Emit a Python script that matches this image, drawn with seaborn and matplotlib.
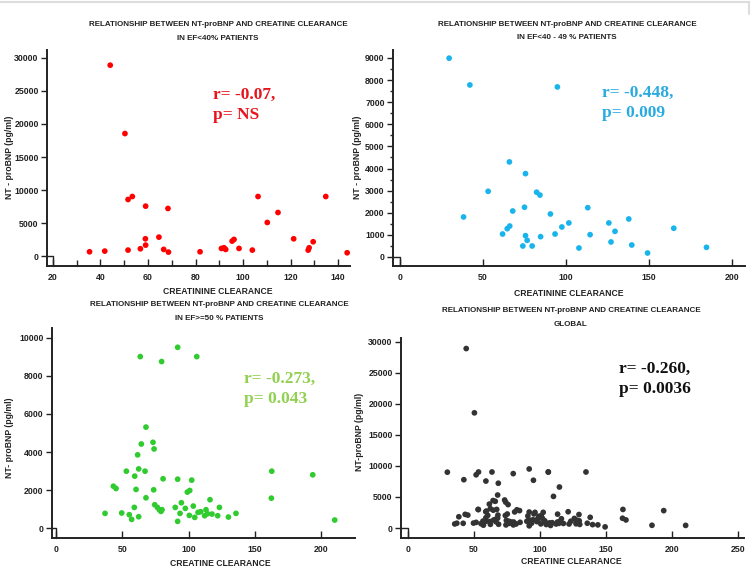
import numpy as np
import pandas as pd
import matplotlib
matplotlib.use('Agg')
import matplotlib.pyplot as plt
from matplotlib.lines import Line2D
from matplotlib.ticker import MultipleLocator
import seaborn as sns

# --- data ---
# EF < 40 %
ef40_cc = [44.1, 50.3, 51.6, 53.4, 59.0, 68.4, 35.4, 41.8, 51.6, 56.8, 58.9, 59.0,
           64.6, 66.6, 68.6, 81.9, 90.9, 92.0, 92.7, 95.4, 96.2, 98.3, 103.9, 106.3,
           110.2, 114.7, 121.3, 127.4, 127.8, 129.5, 134.8, 143.8]
ef40_bnp = [28900, 18550, 8570, 9020, 7560, 7210, 655, 756, 907, 1110, 2620, 1660,
            2870, 1010, 605, 655, 1160, 1260, 1010, 2270, 2520, 1160, 907, 9020,
            5090, 6600, 2620, 907, 1260, 2170, 9020, 504]

# EF 40 - 49 %
ef49_cc = [29.8, 42.3, 95.0, 38.5, 53.3, 62.0, 64.8, 66.3, 66.1, 68.1, 75.8, 75.2,
           75.8, 76.8, 74.2, 79.8, 82.5, 84.5, 84.9, 90.8, 93.6, 97.7, 101.9, 108.0,
           113.3, 114.7, 126.0, 127.3, 129.7, 138.0, 139.8, 149.3, 165.1, 184.8]
ef49_bnp = [8990, 7780, 7690, 1810, 2970, 1040, 1280, 1400, 4300, 2080, 3770, 2250,
            965, 754, 498, 498, 2930, 2800, 920, 1945, 1040, 1357, 1540, 407,
            2230, 1010, 1540, 680, 1160, 1720, 543, 181, 1300, 437]

# EF >= 50 %
ef50_cc = [91.8, 63.6, 79.7, 106.2, 67.9, 73.2, 74.0, 64.4, 61.6, 62.4, 53.1, 59.4,
           67.2, 162.8, 193.7, 43.3, 45.3, 60.4, 73.7, 80.8, 91.8, 102.4, 67.9, 162.5,
           99.1, 100.9, 116.2, 37.0, 49.6, 55.3, 57.1, 59.1, 62.4, 74.5, 76.5, 78.0,
           79.2, 80.0, 90.0, 93.6, 94.6, 97.6, 91.8, 100.6, 103.6, 104.7, 107.2, 109.2,
           112.2, 113.2, 114.3, 117.7, 122.0, 123.3, 130.1, 135.8, 210.3]
ef50_bnp = [9510, 9020, 8760, 9020, 5310, 4510, 4160, 4420, 3850, 3110, 2990, 2730,
            2990, 2990, 2800, 2200, 2080, 2030, 2010, 2590, 2570, 2520, 1590, 1570,
            1890, 1975, 1490, 770, 790, 700, 455, 1084, 594, 1224, 1084, 961,
            874, 961, 1084, 770, 1330, 1031, 350, 664, 1154, 559, 822, 857,
            647, 961, 752, 734, 647, 1084, 577, 770, 420]

# global = all patients together
glob_cc = ef40_cc + ef49_cc + ef50_cc
glob_bnp = ef40_bnp + ef49_bnp + ef50_bnp

W, H = 753, 570
sns.set_style('ticks')
plt.rcParams['font.family'] = ['Liberation Sans', 'DejaVu Sans']

fig = plt.figure(figsize=(W / 100, H / 100), dpi=100)
fig.patch.set_facecolor('white')

# thin grey frame line along the top of the page
fig.add_artist(Line2D([0, 0.995], [1 - 2 / H, 1 - 2 / H], transform=fig.transFigure,
                      color='#dddddd', lw=1.5))
fig.add_artist(Line2D([0.995, 0.995], [1 - 2 / H, 1 - 14 / H], transform=fig.transFigure,
                      color='#dddddd', lw=1.5))


def px_ax(left, right, top, bottom):
    return fig.add_axes([left / W, 1 - bottom / H, (right - left) / W, (bottom - top) / H])


def ftext(x, y, s, **kw):
    fig.text(x / W, 1 - y / H, s, ha='center', va='center', **kw)


panels = [
    dict(x=ef40_cc, y=ef40_bnp, color='#ff0000', box=(47, 350, 50, 266),
         xlim=(17.5, 145), ylim=(-1500, 31200), xmaj=20, xmin=10, ymaj=5000, ymin=None,
         x0=20, title=('RELATIONSHIP BETWEEN NT-proBNP AND CREATINE CLEARANCE', 'IN EF<40% PATIENTS'),
         tpos=(218, 25), xlab='CREATININE CLEARANCE', xlpos=(218, 291),
         ylab='NT - proBNP (pg/ml)', ylpos=(10, 157),
         stat=('r= -0.07,', 'p= NS'), spos=(213, 95), scol='#e8141c'),
    dict(x=ef49_cc, y=ef49_bnp, color='#19b4ec', box=(393, 745, 50, 266),
         xlim=(-4, 208), ylim=(-407, 9360), xmaj=50, xmin=None, ymaj=1000, ymin=500,
         x0=0, title=('RELATIONSHIP BETWEEN NT-proBNP AND CREATINE CLEARANCE', 'IN EF<40 - 49 % PATIENTS'),
         tpos=(567, 24), xlab='CREATININE CLEARANCE', xlpos=(569, 293),
         ylab='NT - proBNP (pg/ml)', ylpos=(357, 157),
         stat=('r= -0.448,', 'p= 0.009'), spos=(602, 93), scol='#29abe2'),
    dict(x=ef50_cc, y=ef50_bnp, color='#2fcb2f', box=(52, 355, 328, 538),
         xlim=(-3, 225.6), ylim=(-526, 10526), xmaj=50, xmin=None, ymaj=2000, ymin=None,
         x0=0, title=('RELATIONSHIP BETWEEN NT-proBNP AND CREATINE CLEARANCE', 'IN EF>=50 % PATIENTS'),
         tpos=(219, 305), xlab='CREATINE CLEARANCE', xlpos=(220, 563),
         ylab='NT- proBNP (pg/ml)', ylpos=(10, 438),
         stat=('r= -0.273,', 'p= 0.043'), spos=(244, 379), scol='#92d050'),
    dict(x=glob_cc, y=glob_bnp, color='#333333', box=(401, 744, 338, 538),
         xlim=(-5.3, 254.5), ylim=(-1610, 30600), xmaj=50, xmin=None, ymaj=5000, ymin=None,
         x0=0, title=('RELATIONSHIP BETWEEN NT-proBNP AND CREATINE CLEARANCE', 'GLOBAL'),
         tpos=(571, 311), xlab='CREATINE CLEARANCE', xlpos=(571, 562),
         ylab='NT-proBNP (pg/ml)', ylpos=(360, 432),
         stat=('r= -0.260,', 'p= 0.0036'), spos=(619, 369), scol='#111111'),
]

for p in panels:
    ax = px_ax(*p['box'])
    df = pd.DataFrame({'cc': p['x'], 'bnp': p['y']})
    sns.scatterplot(data=df, x='cc', y='bnp', ax=ax, color=p['color'], s=17,
                    edgecolor='none', linewidth=0, zorder=3, clip_on=False)
    ax.set_xlim(*p['xlim'])
    ax.set_ylim(*p['ylim'])
    ax.xaxis.set_major_locator(MultipleLocator(p['xmaj']))
    ax.yaxis.set_major_locator(MultipleLocator(p['ymaj']))
    if p['xmin']:
        ax.xaxis.set_minor_locator(MultipleLocator(p['xmin']))
    if p['ymin']:
        ax.yaxis.set_minor_locator(MultipleLocator(p['ymin']))
    ax.set_xticks([t for t in ax.get_xticks() if p['xlim'][0] <= t <= p['xlim'][1]])
    ax.set_yticks([t for t in ax.get_yticks() if 0 <= t <= p['ylim'][1]])
    ax.set_xlabel('')
    ax.set_ylabel('')
    sns.despine(ax=ax)
    for s in ('left', 'bottom'):
        ax.spines[s].set_color('#222222')
        ax.spines[s].set_linewidth(1.4)
    ax.tick_params(axis='x', direction='in', length=5, width=1, color='#222222',
                   labelsize=6.3, pad=5, which='major')
    ax.tick_params(axis='x', direction='in', length=4, width=1, which='minor')
    ax.tick_params(axis='y', direction='out', length=4, width=1, color='#222222',
                   labelsize=6.3, pad=2, which='major')
    ax.tick_params(axis='y', direction='out', length=2, width=1, which='minor')
    for lab in ax.get_xticklabels() + ax.get_yticklabels():
        lab.set_fontweight('bold')
        lab.set_color('#222222')
    # little origin box like the original software draws
    ax.plot([p['xlim'][0], p['x0'], p['x0']], [0, 0, p['ylim'][0]], color='#222222',
            lw=1, clip_on=False, zorder=2)

    tx, ty = p['tpos']
    ftext(tx, ty, p['title'][0], fontsize=5.8, fontweight='bold', color='#222222')
    ftext(tx, ty + 13.5, p['title'][1], fontsize=5.8, fontweight='bold', color='#222222')
    ftext(*p['xlpos'], p['xlab'], fontsize=6.2, fontweight='bold', color='#222222')
    ftext(*p['ylpos'], p['ylab'], fontsize=6.2, fontweight='bold', color='#222222', rotation=90)
    sx, sy = p['spos']
    for i, line in enumerate(p['stat']):
        fig.text(sx / W, 1 - (sy + 20 * i) / H, line, ha='left', va='center',
                 fontsize=12.5, fontweight='bold', color=p['scol'],
                 family=['Liberation Serif', 'DejaVu Serif'])

fig.savefig('out.png', dpi=100, facecolor='white')
